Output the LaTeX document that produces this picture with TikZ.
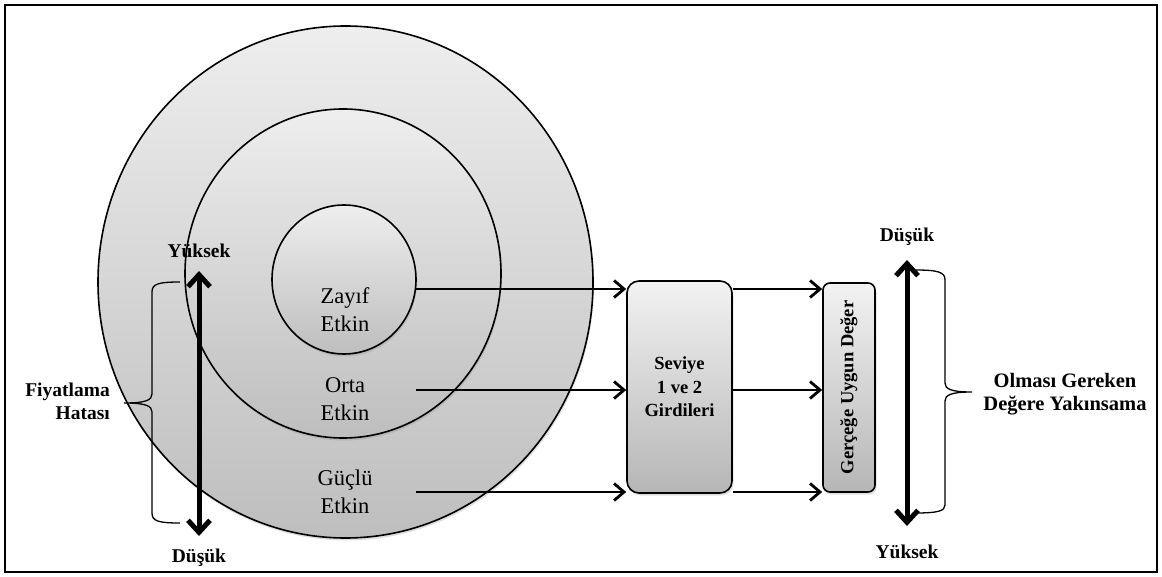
\documentclass[tikz,border=0pt]{standalone}
\usepackage{fontspec}
\setmainfont{Liberation Serif}
\usetikzlibrary{arrows.meta,shapes.geometric,shadows}
\definecolor{ctop}{RGB}{238,238,238}
\definecolor{cbot}{RGB}{190,190,190}
\definecolor{btop}{RGB}{242,242,242}
\definecolor{bbot}{RGB}{182,182,182}
\begin{document}
\begin{tikzpicture}[x=1pt,y=-1pt,
  ring/.style={ellipse, draw=black, line width=1.6pt, inner sep=0pt,
    top color=ctop, bottom color=cbot,
    drop shadow={shadow xshift=1pt, shadow yshift=-2.5pt, opacity=0.25}},
  boxnode/.style={rounded corners=#1, draw=black, line width=1.6pt, inner sep=0pt,
    top color=btop, bottom color=bbot, align=center,
    drop shadow={shadow xshift=1.5pt, shadow yshift=-2.5pt, opacity=0.25}},
  ringtxt/.style={align=center, font=\fontsize{22.5}{28}\selectfont, inner sep=0pt},
  boldtxt/.style={font=\bfseries\fontsize{19.5}{23}\selectfont, inner sep=0pt},
  arr/.style={line width=2.8pt, -{Straight Barb[length=10pt,width=17pt]}},
  bigarr/.style={line width=5pt, {Straight Barb[length=12pt,width=22pt]}-{Straight Barb[length=12pt,width=22pt]}},
  bracestyle/.style={line width=1.3pt}
]
\useasboundingbox (0,0) rectangle (1162,577);
\draw[line width=1.6pt] (5,5) rectangle (1157,572);

% rings
\node[ring, minimum width=495pt, minimum height=512pt] (outer) at (345.5,282) {};
\node[ring, minimum width=316pt, minimum height=329pt] (middle) at (343,273.5) {};
\node[ring, minimum width=144pt, minimum height=149pt] (inner) at (344,279.5) {};

\node[ringtxt] (zayif) at (345,310) {Zayıf\\Etkin};
\node[ringtxt] (orta) at (345,399) {Orta\\Etkin};
\node[ringtxt] (guclu) at (345,492) {Güçlü\\Etkin};

% boxes
\node[boxnode=12pt, minimum width=105pt, minimum height=212pt,
  font=\bfseries\fontsize{18.5}{23.5}\selectfont] (b1) at (679.5,387) {Seviye\\1 ve 2\\Girdileri};
\node[boxnode=7pt, minimum width=52pt, minimum height=209pt] (b2) at (849,387.5) {};
\node[rotate=90, font=\bfseries\fontsize{18.5}{22}\selectfont, inner sep=0pt] (b2txt) at (b2.center) {Gerçeğe Uygun Değer};

% connectors
\coordinate (a1) at (416,289);
\coordinate (a2) at (416,390);
\coordinate (a3) at (416,492);
\draw[arr] (a1) -- (a1 -| b1.west);
\draw[arr] (a2) -- (a2 -| b1.west);
\draw[arr] (a3) -- (a3 -| b1.west);
\draw[arr] (a1 -| b1.east) -- (a1 -| b2.west);
\draw[arr] (a2 -| b1.east) -- (a2 -| b2.west);
\draw[arr] (a3 -| b1.east) -- (a3 -| b2.west);

% left scale
\coordinate (lt) at (199,271);
\coordinate (lb) at (199,536);
\draw[bigarr] (lt) -- (lb);
\node[boldtxt] (lyuk) at (199,251) {Yüksek};
\node[boldtxt] (ldus) at (199,558) {Düşük};
\draw[bracestyle] (180,282) .. controls (158,282) and (152,284) .. (152,292) -- (152,394)
  .. controls (152,400) and (146,403) .. (124,403)
  .. controls (146,403) and (152,406) .. (152,412) -- (152,513)
  .. controls (152,521) and (158,523) .. (180,523);
\node[boldtxt, anchor=east, align=right] (fiy) at (110,401) {Fiyatlama\\Hatası};

% right scale
\coordinate (rt) at (907,260);
\coordinate (rb) at (907,526);
\draw[bigarr] (rt) -- (rb);
\node[boldtxt] (rdus) at (907,237) {Düşük};
\node[boldtxt] (ryuk) at (907,552) {Yüksek};
\draw[bracestyle] (915,270) .. controls (938,270) and (945,272) .. (945,280) -- (945,383)
  .. controls (945,389) and (951,392) .. (972,392)
  .. controls (951,392) and (945,395) .. (945,401) -- (945,505)
  .. controls (945,511) and (938,513) .. (915,513);
\node[boldtxt, align=center, font=\bfseries\fontsize{20.5}{23}\selectfont] (conv) at (1065,394) {Olması Gereken\\Değere Yakınsama};
\end{tikzpicture}
\end{document}
